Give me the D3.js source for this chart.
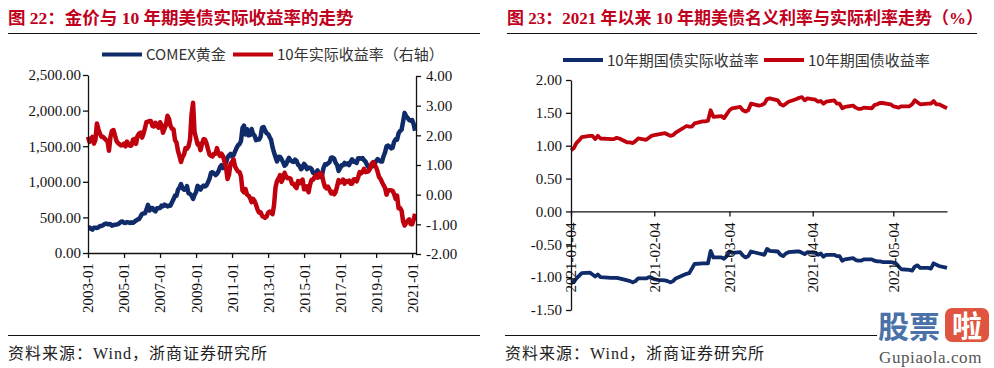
<!DOCTYPE html>
<meta charset="utf-8">
<style>
  body { margin: 0; background: #fff; }
</style>
<body>
  <div id="charts"></div>
  <script src="https://d3js.org/d3.v7.min.js"></script>
  <script>
    // ---------- chart 1: gold vs 10y real yield, monthly 2003-01 .. 2021-03
    var goldPrice = [
      357, 359, 340, 328, 355, 356, 351, 360, 378, 379, 389, 407,
      414, 405, 406, 404, 384, 392, 398, 400, 406, 420, 439, 442,
      424, 423, 434, 429, 422, 431, 424, 438, 456, 470, 476, 510,
      549, 555, 557, 610, 676, 596, 633, 632, 598, 586, 627, 629,
      631, 665, 655, 679, 667, 655, 665, 665, 712, 754, 806, 803,
      889, 922, 968, 909, 888, 890, 939, 839, 829, 806, 760, 816,
      858, 943, 924, 890, 928, 946, 934, 949, 996, 1043, 1127, 1135,
      1118, 1095, 1113, 1148, 1205, 1233, 1193, 1215, 1271, 1343, 1370, 1391,
      1356, 1372, 1424, 1474, 1512, 1529, 1572, 1756, 1790, 1665, 1739, 1652,
      1656, 1742, 1673, 1650, 1585, 1596, 1594, 1630, 1760, 1770, 1722, 1685,
      1671, 1628, 1593, 1487, 1414, 1343, 1286, 1352, 1349, 1316, 1275, 1225,
      1244, 1300, 1336, 1299, 1287, 1279, 1311, 1296, 1239, 1222, 1176, 1201,
      1251, 1227, 1179, 1198, 1199, 1181, 1128, 1117, 1125, 1159, 1086, 1068,
      1097, 1200, 1246, 1242, 1260, 1276, 1337, 1341, 1326, 1267, 1236, 1152,
      1192, 1234, 1231, 1266, 1246, 1260, 1236, 1283, 1315, 1280, 1283, 1265,
      1331, 1331, 1325, 1334, 1303, 1282, 1238, 1202, 1198, 1215, 1221, 1250,
      1291, 1320, 1300, 1285, 1284, 1359, 1413, 1500, 1510, 1495, 1470, 1479,
      1560, 1597, 1591, 1683, 1715, 1732, 1846, 1968, 1921, 1900, 1866, 1858,
      1867, 1808, 1718
    ];
    var realYield = [
      1.95, 1.78, 1.88, 1.95, 1.72, 1.85, 2.40, 2.20, 2.05, 1.95, 1.95, 1.90,
      1.84, 1.80, 1.48, 1.95, 2.15, 2.18, 2.00, 1.81, 1.74, 1.70, 1.66, 1.68,
      1.72, 1.63, 1.79, 1.71, 1.65, 1.66, 1.85, 1.88, 1.71, 1.97, 2.06, 2.09,
      1.92, 2.06, 2.24, 2.45, 2.46, 2.48, 2.48, 2.31, 2.30, 2.42, 2.33, 2.26,
      2.44, 2.36, 2.09, 2.22, 2.35, 2.66, 2.56, 2.32, 2.22, 2.21, 1.84, 1.76,
      1.47, 1.30, 1.10, 1.27, 1.35, 1.57, 1.55, 1.63, 1.86, 2.70, 3.10, 2.10,
      1.91, 1.69, 1.71, 1.50, 1.70, 1.87, 1.86, 1.73, 1.53, 1.35, 1.31, 1.29,
      1.38, 1.38, 1.57, 1.39, 1.31, 1.38, 1.30, 1.11, 0.91, 0.53, 0.68, 1.04,
      1.11, 1.19, 0.96, 0.86, 0.78, 0.76, 0.62, 0.14, 0.08, 0.19, 0.00, -0.03,
      -0.11, -0.25, -0.14, -0.21, -0.34, -0.50, -0.60, -0.59, -0.71, -0.75, -0.78, -0.74,
      -0.61, -0.57, -0.59, -0.66, -0.36, 0.25, 0.46, 0.55, 0.66, 0.43, 0.55, 0.74,
      0.61, 0.55, 0.56, 0.54, 0.37, 0.37, 0.28, 0.22, 0.46, 0.38, 0.45, 0.51,
      0.18, 0.18, 0.28, 0.08, 0.33, 0.50, 0.50, 0.59, 0.66, 0.57, 0.69, 0.73,
      0.66, 0.41, 0.26, 0.21, 0.27, 0.16, 0.04, 0.09, 0.01, 0.08, 0.28, 0.49,
      0.41, 0.43, 0.51, 0.37, 0.46, 0.44, 0.47, 0.37, 0.37, 0.51, 0.52, 0.45,
      0.58, 0.76, 0.72, 0.77, 0.87, 0.76, 0.77, 0.79, 0.88, 1.05, 1.10, 1.01,
      0.92, 0.77, 0.60, 0.53, 0.42, 0.32, 0.23, 0.00, 0.14, 0.15, 0.15, 0.13,
      0.02, -0.14, -0.03, -0.46, -0.45, -0.54, -0.90, -1.04, -0.96, -0.88, -0.83, -0.99,
      -1.00, -0.84, -0.64
    ];
    var yearTicks = ["2003-01", "2005-01", "2007-01", "2009-01", "2011-01",
      "2013-01", "2015-01", "2017-01", "2019-01", "2021-01"];
    var goldTicks = [0, 500, 1000, 1500, 2000, 2500];
    var yieldTicks = [-2, -1, 0, 1, 2, 3, 4];

    // ---------- chart 2: 10y nominal vs real, daily 2021
    var tradeDays = [
      "2021-01-04", "2021-01-05", "2021-01-06", "2021-01-07", "2021-01-08", "2021-01-11", "2021-01-12",
      "2021-01-13", "2021-01-14", "2021-01-15", "2021-01-19", "2021-01-20", "2021-01-21", "2021-01-22",
      "2021-01-25", "2021-01-26", "2021-01-27", "2021-01-28", "2021-01-29",
      "2021-02-01", "2021-02-02", "2021-02-03", "2021-02-04", "2021-02-05", "2021-02-08", "2021-02-09",
      "2021-02-10", "2021-02-11", "2021-02-12", "2021-02-16", "2021-02-17", "2021-02-18", "2021-02-19",
      "2021-02-22", "2021-02-23", "2021-02-24", "2021-02-25", "2021-02-26",
      "2021-03-01", "2021-03-02", "2021-03-03", "2021-03-04", "2021-03-05", "2021-03-08", "2021-03-09",
      "2021-03-10", "2021-03-11", "2021-03-12", "2021-03-15", "2021-03-16", "2021-03-17", "2021-03-18",
      "2021-03-19", "2021-03-22", "2021-03-23", "2021-03-24", "2021-03-25", "2021-03-26", "2021-03-29",
      "2021-03-30", "2021-03-31",
      "2021-04-01", "2021-04-02", "2021-04-05", "2021-04-06", "2021-04-07", "2021-04-08", "2021-04-09",
      "2021-04-12", "2021-04-13", "2021-04-14", "2021-04-15", "2021-04-16", "2021-04-19", "2021-04-20",
      "2021-04-21", "2021-04-22", "2021-04-23", "2021-04-26", "2021-04-27", "2021-04-28", "2021-04-29",
      "2021-04-30",
      "2021-05-03", "2021-05-04", "2021-05-05", "2021-05-06", "2021-05-07", "2021-05-10", "2021-05-11",
      "2021-05-12", "2021-05-13", "2021-05-14", "2021-05-17", "2021-05-18", "2021-05-19", "2021-05-20",
      "2021-05-21", "2021-05-24"
    ];
    var nominal10y = [
      0.93, 0.96, 1.04, 1.08, 1.13, 1.15, 1.15, 1.10, 1.15, 1.11, 1.10, 1.10, 1.12, 1.11, 1.05, 1.05, 1.04, 1.07, 1.11,
      1.09, 1.12, 1.15, 1.16, 1.17, 1.19, 1.17, 1.15, 1.16, 1.20, 1.30, 1.29, 1.29, 1.34, 1.37, 1.37, 1.38, 1.54, 1.44,
      1.45, 1.42, 1.48, 1.54, 1.57, 1.59, 1.54, 1.52, 1.54, 1.64, 1.61, 1.62, 1.64, 1.71, 1.72, 1.69, 1.63, 1.61, 1.64,
      1.67, 1.71, 1.73, 1.74,
      1.69, 1.72, 1.70, 1.67, 1.68, 1.64, 1.67, 1.69, 1.64, 1.64, 1.57, 1.59, 1.61, 1.58, 1.56, 1.56, 1.58, 1.57, 1.62,
      1.63, 1.65, 1.65,
      1.63, 1.60, 1.59, 1.58, 1.60, 1.60, 1.63, 1.69, 1.66, 1.63, 1.64, 1.64, 1.68, 1.63, 1.63, 1.57
    ];
    var real10y = [
      -1.08, -1.07, -1.02, -0.98, -0.94, -0.93, -0.96, -0.99, -0.96, -1.00, -1.01, -1.01, -1.01, -1.02, -1.05, -1.06, -1.08, -1.06, -1.02,
      -1.02, -1.00, -1.01, -1.03, -1.04, -1.05, -1.06, -1.08, -1.06, -1.02, -0.95, -0.94, -0.87, -0.80, -0.79, -0.79, -0.79, -0.60, -0.70,
      -0.70, -0.72, -0.68, -0.61, -0.63, -0.62, -0.67, -0.70, -0.68, -0.61, -0.64, -0.65, -0.66, -0.57, -0.60, -0.61, -0.66, -0.68, -0.64,
      -0.62, -0.61, -0.61, -0.63,
      -0.65, -0.62, -0.63, -0.66, -0.64, -0.69, -0.66, -0.66, -0.68, -0.68, -0.75, -0.73, -0.71, -0.74, -0.75, -0.75, -0.73, -0.73, -0.75,
      -0.76, -0.76, -0.77,
      -0.77, -0.78, -0.79, -0.84, -0.88, -0.89, -0.90, -0.84, -0.82, -0.86, -0.86, -0.87, -0.79, -0.81, -0.83, -0.86
    ];
    var dayTicks = ["2021-01-04", "2021-02-04", "2021-03-04", "2021-04-04", "2021-05-04"];
    var rateTicks = [-1.5, -1, -0.5, 0, 0.5, 1, 1.5, 2];

    var navy = "#0f2b69",
      red = "#c0000c",
      titleRed = "#c0001c",
      serif = "'Liberation Serif', 'Noto Sans CJK SC', serif",
      cjk = "'Noto Sans CJK SC', sans-serif";

    var parseDay = d3.timeParse("%Y-%m-%d"),
      parseMonth = d3.timeParse("%Y-%m");

    var locale = d3.formatLocale({
      decimal: ".",
      thousands: ",",
      grouping: [3],
      currency: ["", ""],
      minus: "-"
    });

    var svg = d3.select("#charts")
      .append("svg")
      .attr("width", 994)
      .attr("height", 368)
      .style("display", "block");

    svg.append("rect")
      .attr("width", 994)
      .attr("height", 368)
      .attr("fill", "#fff");

    function styleAxis(g) {
      g.selectAll("path, line").attr("stroke", "#111").attr("stroke-width", 1.3);
      g.selectAll("text")
        .attr("fill", "#111")
        .attr("font-family", serif)
        .attr("font-size", 15);
    }

    function rotateLabels(g, off) {
      g.selectAll(".tick text")
        .attr("transform", "rotate(-90)")
        .attr("x", -off)
        .attr("y", 0)
        .attr("dy", "0.33em")
        .style("text-anchor", "end");
    }

    function frame(x0, x1, title, size) {
      svg.append("text")
        .attr("x", x0)
        .attr("y", 24)
        .attr("fill", titleRed)
        .attr("font-family", serif)
        .attr("font-weight", "bold")
        .attr("font-size", size)
        .text(title);
      svg.append("line")
        .attr("x1", x0).attr("x2", x1)
        .attr("y1", 33.5).attr("y2", 33.5)
        .attr("stroke", "#111").attr("stroke-width", 1.2);
    }

    function footer(x0, x1) {
      svg.append("line")
        .attr("x1", x0).attr("x2", x1)
        .attr("y1", 335.5).attr("y2", 335.5)
        .attr("stroke", "#111").attr("stroke-width", 1.2);
      svg.append("text")
        .attr("x", x0)
        .attr("y", 359)
        .attr("fill", "#222")
        .attr("font-family", serif)
        .attr("font-size", 16)
        .attr("letter-spacing", 1)
        .text("资料来源：Wind，浙商证券研究所");
    }

    function legendItem(x, y, color, label) {
      svg.append("line")
        .attr("x1", x).attr("x2", x + 40)
        .attr("y1", y).attr("y2", y)
        .attr("stroke", color).attr("stroke-width", 4);
      svg.append("text")
        .attr("x", x + 44)
        .attr("y", y + 5.5)
        .attr("fill", "#333")
        .attr("font-family", cjk)
        .attr("font-size", 15)
        .text(label);
    }

    //********* Chart 1 ****************
    frame(8, 480, "图 22：金价与 10 年期美债实际收益率的走势", 17.5);

    var months = d3.timeMonth.range(parseMonth("2003-01"), parseMonth("2021-04"));

    var x1 = d3.scaleTime()
      .domain([parseMonth("2003-01"), parseDay("2021-03-20")])
      .range([88, 416]);
    var yGold = d3.scaleLinear().domain([0, 2500]).range([253, 75]);
    var yReal = d3.scaleLinear().domain([-2, 4]).range([254, 76]);

    var goldLine = d3.line()
      .x(function(d, i) { return x1(months[i]); })
      .y(function(d) { return yGold(d); });
    var realLine = d3.line()
      .x(function(d, i) { return x1(months[i]); })
      .y(function(d) { return yReal(d); });

    svg.append("path")
      .datum(goldPrice)
      .attr("d", goldLine)
      .attr("fill", "none")
      .attr("stroke", navy)
      .attr("stroke-width", 4.5)
      .attr("stroke-linejoin", "round");

    svg.append("path")
      .datum(realYield)
      .attr("d", realLine)
      .attr("fill", "none")
      .attr("stroke", red)
      .attr("stroke-width", 4.5)
      .attr("stroke-linejoin", "round");

    // Add the axes
    svg.append("g")
      .attr("transform", "translate(88,0)")
      .call(d3.axisLeft(yGold).tickValues(goldTicks).tickFormat(locale.format(",.2f"))
        .tickSize(5).tickSizeOuter(0).tickPadding(2))
      .call(styleAxis);

    svg.append("g")
      .attr("transform", "translate(416,0)")
      .call(d3.axisRight(yReal).tickValues(yieldTicks).tickFormat(locale.format(".2f"))
        .tickSize(5).tickSizeOuter(0).tickPadding(5))
      .call(styleAxis);

    svg.append("g")
      .attr("transform", "translate(0,253)")
      .call(d3.axisBottom(x1).tickValues(yearTicks.map(parseMonth)).tickFormat(d3.timeFormat("%Y-%m"))
        .tickSize(5).tickSizeOuter(0))
      .call(styleAxis)
      .call(rotateLabels, 10);

    legendItem(102, 54.5, navy, "COMEX黄金");
    legendItem(233, 54.5, red, "10年实际收益率（右轴）");

    footer(8, 480);

    //********* Chart 2 ****************
    frame(507, 977, "图 23：2021 年以来 10 年期美债名义利率与实际利率走势（%）", 17);

    var days = tradeDays.map(parseDay);

    var x2 = d3.scaleTime()
      .domain([parseDay("2021-01-04"), parseDay("2021-05-24")])
      .range([571, 947]);
    var yRate = d3.scaleLinear().domain([-1.5, 2]).range([310, 80]);

    var rateLine = d3.line()
      .x(function(d, i) { return x2(days[i]); })
      .y(function(d) { return yRate(d); });

    svg.append("path")
      .datum(nominal10y)
      .attr("d", rateLine)
      .attr("fill", "none")
      .attr("stroke", red)
      .attr("stroke-width", 3.8)
      .attr("stroke-linejoin", "round");

    svg.append("path")
      .datum(real10y)
      .attr("d", rateLine)
      .attr("fill", "none")
      .attr("stroke", navy)
      .attr("stroke-width", 3.8)
      .attr("stroke-linejoin", "round");

    svg.append("g")
      .attr("transform", "translate(571,0)")
      .call(d3.axisLeft(yRate).tickValues(rateTicks).tickFormat(locale.format(".2f"))
        .tickSize(5).tickSizeOuter(0).tickPadding(4))
      .call(styleAxis);

    svg.append("g")
      .attr("transform", "translate(0," + yRate(0) + ")")
      .call(d3.axisBottom(x2).tickValues(dayTicks.map(parseDay)).tickFormat(d3.timeFormat("%Y-%m-%d"))
        .tickSize(5).tickSizeOuter(0))
      .call(styleAxis)
      .call(rotateLabels, 11);

    legendItem(563, 60, navy, "10年期国债实际收益率");
    legendItem(764, 60, red, "10年期国债收益率");

    footer(505, 877);

    // site watermark in the corner
    var wm = svg.append("g");
    wm.append("text")
      .attr("x", 878)
      .attr("y", 338)
      .attr("fill", "#4a71a8")
      .attr("font-family", cjk)
      .attr("font-weight", "bold")
      .attr("font-size", 31)
      .text("股票");
    wm.append("rect")
      .attr("x", 945).attr("y", 308)
      .attr("width", 44).attr("height", 34)
      .attr("rx", 7)
      .attr("fill", "#e0553f");
    wm.append("text")
      .attr("x", 967)
      .attr("y", 337)
      .attr("text-anchor", "middle")
      .attr("fill", "#fff")
      .attr("font-family", cjk)
      .attr("font-weight", "bold")
      .attr("font-size", 30)
      .text("啦");
    wm.append("text")
      .attr("x", 879)
      .attr("y", 363)
      .attr("fill", "#555")
      .attr("font-family", serif)
      .attr("font-size", 17)
      .attr("letter-spacing", 0.6)
      .text("Gupiaola.com");
  </script>
